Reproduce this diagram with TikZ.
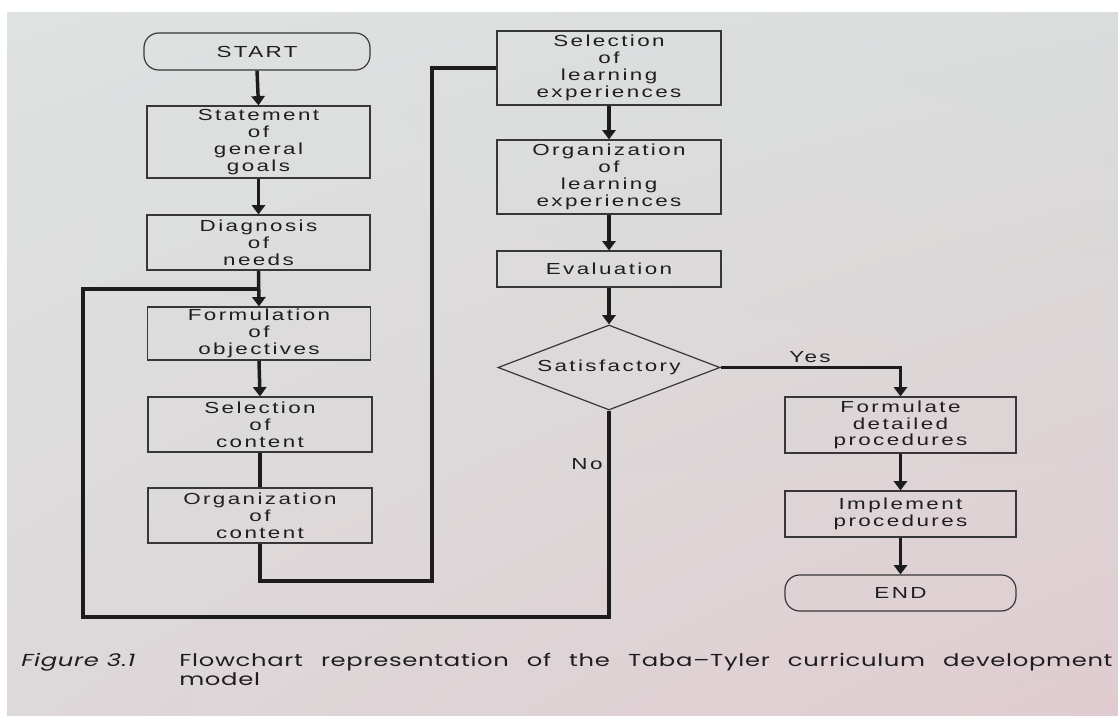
\documentclass[tikz,border=0pt]{standalone}
\usepackage{fontspec}
\usetikzlibrary{arrows.meta,shapes.geometric,calc,shadings}
\newfontfamily\diagfont[FakeStretch=1.4,LetterSpace=15]{Liberation Sans}
\newfontfamily\capfont[FakeStretch=1.4,LetterSpace=4,Ligatures=TeX]{Poppins}
\definecolor{bgUL}{RGB}{222,226,225}
\definecolor{bgUR}{RGB}{217,221,220}
\definecolor{bgLL}{RGB}{221,216,218}
\definecolor{bgLR}{RGB}{224,204,208}
\definecolor{inkc}{RGB}{30,30,30}
\definecolor{boxc}{RGB}{55,55,55}
\definecolor{linec}{RGB}{28,28,28}
\tikzset{
  bx/.style={draw=boxc, line width=0.9pt, align=center, inner sep=0pt, text=inkc,
    font=\diagfont\fontsize{12}{12.6}\selectfont},
  rbx/.style={bx, rounded corners=11pt},
  dec/.style={bx, diamond, shape aspect=2.6},
  conn/.style={draw=linec, line width=2.6pt, line join=miter},
  arr/.style={conn, -{Triangle[length=7pt,width=10pt]}},
  lbl/.style={text=inkc, inner sep=0pt, font=\diagfont\fontsize{12}{12.6}\selectfont},
  captext/.style={text=inkc, inner sep=0pt, anchor=base west, font=\capfont\fontsize{13}{14}\selectfont}
}
\begin{document}
\begin{tikzpicture}[x=0.75pt,y=-0.75pt]
\fill[white] (0,0) rectangle (1118,725);
\shade[upper left=bgUL, upper right=bgUR, lower left=bgLL, lower right=bgLR] (7,12) rectangle (1118,715);
\useasboundingbox (0,0) rectangle (1118,725);

% left column
\node[rbx, minimum width=226*0.75pt, minimum height=37*0.75pt] (start) at (257,51.5) {START};
\node[bx, minimum width=223*0.75pt, minimum height=72*0.75pt] (stmt) at (258.5,142) {Statement\\of\\general\\goals};
\node[bx, minimum width=223*0.75pt, minimum height=55*0.75pt] (diag) at (258.5,242.5) {Diagnosis\\of\\needs};
\node[bx, minimum width=223*0.75pt, minimum height=53*0.75pt] (form) at (259,333.5) {Formulation\\of\\objectives};
\node[bx, minimum width=224*0.75pt, minimum height=55*0.75pt] (selc) at (260,424.5) {Selection\\of\\content};
\node[bx, minimum width=224*0.75pt, minimum height=55*0.75pt] (orgc) at (260,515.5) {Organization\\of\\content};

% right column
\node[bx, minimum width=224*0.75pt, minimum height=74*0.75pt] (sell) at (609,68) {Selection\\of\\learning\\experiences};
\node[bx, minimum width=224*0.75pt, minimum height=74*0.75pt] (orgl) at (609,177) {Organization\\of\\learning\\experiences};
\node[bx, minimum width=224*0.75pt, minimum height=36*0.75pt] (eval) at (609,269) {Evaluation};
\node[dec, minimum width=222*0.75pt, minimum height=85*0.75pt] (sat) at (609,367.5) {Satisfactory};
\node[bx, minimum width=231*0.75pt, minimum height=56*0.75pt] (fmt) at (900.5,425) {Formulate\\detailed\\procedures};
\node[bx, minimum width=231*0.75pt, minimum height=46*0.75pt] (impl) at (900.5,514) {Implement\\procedures};
\node[rbx, minimum width=231*0.75pt, minimum height=36*0.75pt] (fin) at (900.5,593) {END};

% helper coordinates
\coordinate (jn) at (259,289);
\coordinate (lo) at (83,617);
\coordinate (ib) at (432,581);

% connectors
\draw[arr] (start.south) -- (stmt.north);
\draw[arr] (stmt.south) -- (diag.north);
\draw[arr] (diag.south) -- (form.north);
\draw[arr] (form.south) -- (selc.north);
\draw[conn] (selc.south) -- (orgc.north);
\draw[conn] (orgc.south) |- (ib) |- (sell.west);
\draw[arr] (sell.south) -- (orgl.north);
\draw[arr] (orgl.south) -- (eval.north);
\draw[arr] (eval.south) -- (sat.north);
\draw[arr, line width=1.9pt] (sat.east) -| (fmt.north);
\draw[arr] (fmt.south) -- (impl.north);
\draw[arr] (impl.south) -- (fin.north);
\draw[conn] (sat.south) |- (lo) |- (jn);

\node[lbl] (yes) at (810,357) {Yes};
\node[lbl] (no) at (587,464) {No};

% caption
\node[captext, font=\capfont\itshape\fontsize{13}{14}\selectfont] (fig) at (21,666) {Figure 3.1};
\node[captext] (cap1) at (179,666) {\makebox[700pt][s]{Flowchart representation of the Taba–Tyler curriculum development}};
\node[captext] (cap2) at (179,685) {model};
\end{tikzpicture}
\end{document}
